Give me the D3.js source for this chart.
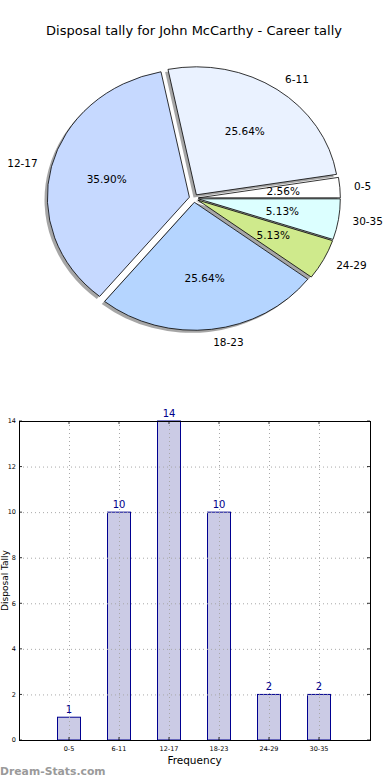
<!DOCTYPE html>
<html><head><meta charset="utf-8">
<script src="https://cdn.jsdelivr.net/npm/d3@7"></script>
<style>body{margin:0;background:#fff;}svg{display:block;font-family:"DejaVu Sans",sans-serif;}</style>
</head><body>
<svg id="c" width="390" height="780"></svg>
<script>
const title = "Disposal tally for John McCarthy - Career tally";
const categories = ["0-5","6-11","12-17","18-23","24-29","30-35"];
const values = [1,10,14,10,2,2];
const sliceColors = ["#ffffff","#eaf2ff","#c6d9ff","#b5d5ff","#cfea8c","#dcffff"];
const yTicks = [0,2,4,6,8,10,12,14];
const yLabel = "Disposal Tally";
const xLabel = "Frequency";
const watermark = "Dream-Stats.com";

const svg = d3.select("#c");

// Title
svg.append("text").attr("x",194).attr("y",35).attr("text-anchor","middle")
  .attr("font-size","13px").attr("fill","#000").text(title);

// ---- Pie (elliptical, like matplotlib on non-equal axes) ----
const cx = 193.8, cy = 198.2, rx = 142, ry = 128, explode = 0.032;
const total = d3.sum(values);
const pie = d3.pie().sort(null).startAngle(0).endAngle(2*Math.PI);
const arcs = pie(values);
const arcGen = d3.arc().innerRadius(0).outerRadius(1);
const pieG = svg.append("g");

function sliceInfo(d){
  const mid = (d.startAngle + d.endAngle)/2; // ccw from east
  const ox = cx + explode*rx*Math.cos(mid), oy = cy - explode*ry*Math.sin(mid);
  const path = arcGen({startAngle: Math.PI/2 - d.endAngle, endAngle: Math.PI/2 - d.startAngle});
  return {mid, ox, oy, path};
}
// shadows
arcs.forEach(d=>{
  const s = sliceInfo(d);
  pieG.append("path").attr("d", s.path)
    .attr("transform", `translate(${s.ox-0.02*rx},${s.oy+0.02*ry}) scale(${rx},${ry})`)
    .attr("fill","#4d4d4d").attr("fill-opacity",0.5).attr("stroke","none");
});
// slices
arcs.forEach((d,i)=>{
  const s = sliceInfo(d);
  pieG.append("path").attr("d", s.path)
    .attr("transform", `translate(${s.ox},${s.oy}) scale(${rx},${ry})`)
    .attr("fill", sliceColors[i]).attr("stroke","#000").attr("stroke-width",0.8)
    .attr("vector-effect","non-scaling-stroke").attr("stroke-linejoin","round");
});
// labels
arcs.forEach((d,i)=>{
  const s = sliceInfo(d);
  const c = Math.cos(s.mid), sn = Math.sin(s.mid);
  pieG.append("text")
    .attr("x", s.ox + 1.1*rx*c).attr("y", s.oy - 1.1*ry*sn).attr("dy","0.35em")
    .attr("text-anchor", c >= 0 ? "start" : "end")
    .attr("font-size","10.5px").text(categories[i]);
  pieG.append("text")
    .attr("x", s.ox + 0.6*rx*c).attr("y", s.oy - 0.6*ry*sn).attr("dy","0.35em")
    .attr("text-anchor","middle").attr("font-size","10.5px")
    .text((values[i]/total*100).toFixed(2) + "%");
});

// ---- Bar chart ----
const L = 19, R = 370, T = 421, B = 740;
const x = d3.scaleLinear().domain([-1, 6.02]).range([L, R]);
const y = d3.scaleLinear().domain([0, 14]).range([B, T]);
const bw = 0.46;
const barG = svg.append("g");

barG.selectAll("rect.bar").data(values).join("rect")
  .attr("x",(d,i)=>x(i-bw/2)).attr("width",x(bw)-x(0))
  .attr("y",d=>y(d)).attr("height",d=>y(0)-y(d))
  .attr("fill","#cbcbe5").attr("stroke","#000090").attr("stroke-width",1);

// grid (drawn above bars)
const grid = barG.append("g").attr("stroke","#a8a8a8").attr("stroke-width",1).attr("stroke-dasharray","1,3");
yTicks.forEach(t=>grid.append("line").attr("x1",L).attr("x2",R).attr("y1",y(t)+0.5).attr("y2",y(t)+0.5));
categories.forEach((c,i)=>grid.append("line").attr("x1",Math.round(x(i))+0.5).attr("x2",Math.round(x(i))+0.5).attr("y1",T).attr("y2",B));

// tick marks
const tk = barG.append("g").attr("stroke","#000").attr("stroke-width",0.8);
yTicks.forEach(t=>{
  tk.append("line").attr("x1",L).attr("x2",L+3).attr("y1",y(t)).attr("y2",y(t));
  tk.append("line").attr("x1",R-3).attr("x2",R).attr("y1",y(t)).attr("y2",y(t));
});
categories.forEach((c,i)=>{
  tk.append("line").attr("x1",x(i)).attr("x2",x(i)).attr("y1",B).attr("y2",B-3);
  tk.append("line").attr("x1",x(i)).attr("x2",x(i)).attr("y1",T).attr("y2",T+3);
});

// frame
barG.append("rect").attr("x",L+0.5).attr("y",T+0.5).attr("width",R-L).attr("height",B-T)
  .attr("fill","none").attr("stroke","#000").attr("stroke-width",1);

// y tick labels
barG.selectAll("text.yt").data(yTicks).join("text")
  .attr("x",L-3).attr("y",d=>y(d)).attr("dy","0.35em").attr("text-anchor","end")
  .attr("font-size","6.5px").text(d=>d);
// x tick labels
barG.selectAll("text.xt").data(categories).join("text")
  .attr("x",(d,i)=>x(i)).attr("y",B+11).attr("text-anchor","middle")
  .attr("font-size","6.5px").text(d=>d);
// value labels
barG.selectAll("text.val").data(values).join("text")
  .attr("x",(d,i)=>x(i)).attr("y",d=>y(d)-4).attr("text-anchor","middle")
  .attr("font-size","10px").attr("fill","#00008b").text(d=>d);

// axis labels
svg.append("text").attr("x",(L+R)/2).attr("y",764).attr("text-anchor","middle")
  .attr("font-size","10.5px").text(xLabel);
svg.append("text").attr("transform",`translate(8,${(T+B)/2}) rotate(-90)`)
  .attr("text-anchor","middle").attr("font-size","9px").text(yLabel);

// watermark
svg.append("text").attr("x",0).attr("y",775).attr("font-size","10.8px")
  .attr("font-weight","600").attr("fill","#9a9a9a").text(watermark);
</script>
</body></html>
